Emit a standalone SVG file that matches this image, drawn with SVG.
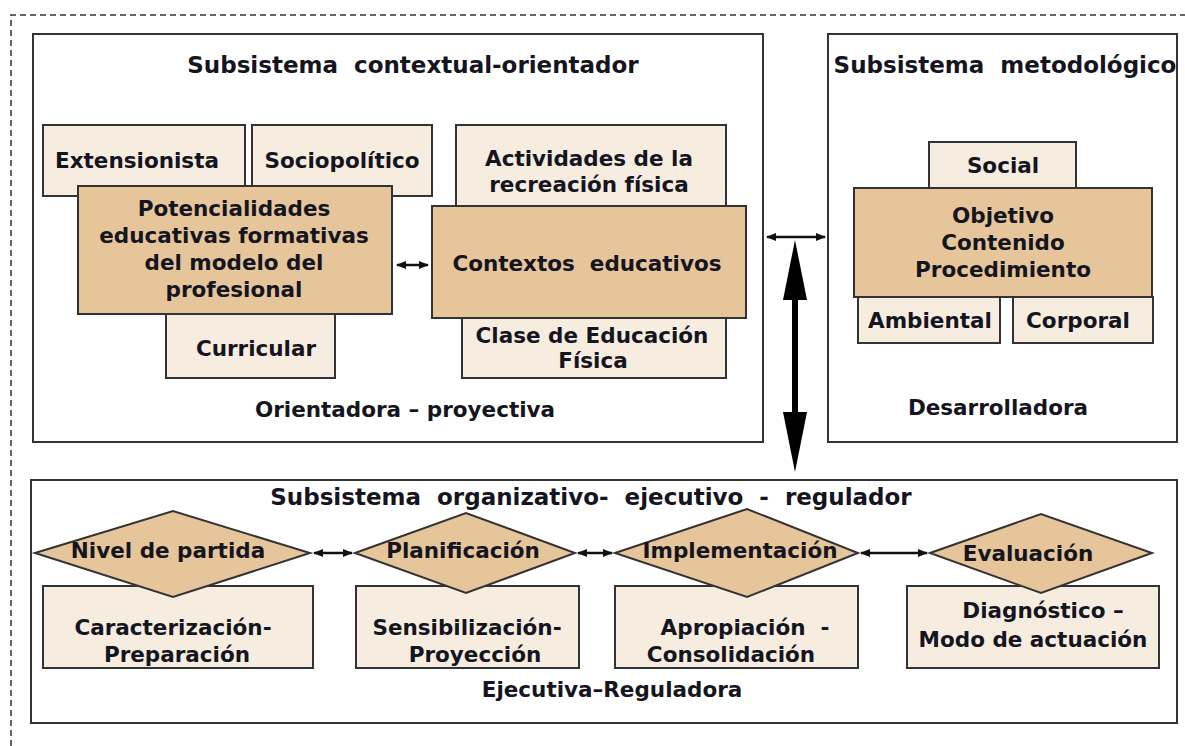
<svg xmlns="http://www.w3.org/2000/svg" width="1185" height="746" viewBox="0 0 1185 746">
<defs>
<style>
.frame{fill:#fff;stroke:#333;stroke-width:2}
.lt{fill:#F6ECE0;stroke:#333;stroke-width:2}
.dk{fill:#E6C59B;stroke:#333;stroke-width:2}
text{font-family:"DejaVu Sans","Liberation Sans",sans-serif;font-weight:bold;fill:#151520;text-anchor:middle;white-space:pre}
.t{font-size:21.5px}
.h{font-size:23px}
.ar{stroke:#111;stroke-width:2.5;fill:none;marker-start:url(#ah);marker-end:url(#ah)}
</style>
<marker id="ah" viewBox="0 0 10 10" refX="9" refY="5" markerWidth="4" markerHeight="4" orient="auto-start-reverse" markerUnits="strokeWidth">
<path d="M0,1 L10,5 L0,9 z" fill="#111"/>
</marker>
</defs>
<rect width="1185" height="746" fill="#fff"/>
<path d="M11,746 L11,15 L1185,15" fill="none" stroke="#333" stroke-width="1.5" stroke-dasharray="6,4"/>

<g id="contextual">
<rect class="frame" x="33" y="34" width="730" height="408"/>
<text class="h" x="413" y="73">Subsistema  contextual-orientador</text>
<text class="t" x="405" y="417">Orientadora – proyectiva</text>
</g>
<g id="extensionista"><rect class="lt" x="43" y="125" width="202" height="71"/><text class="t" x="137" y="168">Extensionista</text></g>
<g id="sociopolitico"><rect class="lt" x="252" y="125" width="180" height="71"/><text class="t" x="342" y="168">Sociopolítico</text></g>
<g id="potencialidades"><rect class="dk" x="78" y="186" width="314" height="128"/>
<text class="t" x="234" y="216">Potencialidades</text>
<text class="t" x="234" y="243">educativas formativas</text>
<text class="t" x="234" y="270">del modelo del</text>
<text class="t" x="234" y="297">profesional</text></g>
<g id="curricular"><rect class="lt" x="166" y="314" width="169" height="64"/><text class="t" x="256" y="356">Curricular</text></g>
<g id="actividades"><rect class="lt" x="456" y="125" width="270" height="81"/>
<text class="t" x="589" y="166">Actividades de la</text>
<text class="t" x="589" y="192">recreación física</text></g>
<g id="contextos"><rect class="dk" x="432" y="206" width="314" height="112"/><text class="t" x="587" y="271">Contextos  educativos</text></g>
<g id="clase"><rect class="lt" x="462" y="318" width="264" height="60"/>
<text class="t" x="592" y="343">Clase de Educación</text>
<text class="t" x="593" y="368">Física</text></g>

<g id="metodologico">
<rect class="frame" x="828" y="34" width="349" height="408"/>
<text class="h" x="1005" y="73">Subsistema  metodológico</text>
<text class="t" x="998" y="415">Desarrolladora</text>
</g>
<g id="social"><rect class="lt" x="929" y="142" width="147" height="46"/><text class="t" x="1003" y="173">Social</text></g>
<g id="objetivo"><rect class="dk" x="854" y="188" width="298" height="109"/>
<text class="t" x="1003" y="223">Objetivo</text>
<text class="t" x="1003" y="250">Contenido</text>
<text class="t" x="1003" y="277">Procedimiento</text></g>
<g id="ambiental"><rect class="lt" x="858" y="297" width="142" height="46"/><text class="t" x="930" y="328">Ambiental</text></g>
<g id="corporal"><rect class="lt" x="1013" y="297" width="140" height="46"/><text class="t" x="1078" y="328">Corporal</text></g>

<g id="organizativo">
<rect class="frame" x="31" y="480" width="1146" height="243"/>
<text class="h" x="591" y="505">Subsistema  organizativo-  ejecutivo  -  regulador</text>
<text class="t" x="612" y="697">Ejecutiva–Reguladora</text>
</g>
<g id="caracterizacion"><rect class="lt" x="43" y="586" width="270" height="82"/>
<text class="t" x="173" y="635">Caracterización-</text>
<text class="t" x="177" y="662">Preparación</text></g>
<g id="nivel"><polygon class="dk" points="35,553 173,511 310,553 173,597" stroke-width="1.5"/><text class="t" x="168" y="558">Nivel de partida</text></g>
<g id="sensibilizacion"><rect class="lt" x="356" y="586" width="223" height="82"/>
<text class="t" x="467" y="635">Sensibilización-</text>
<text class="t" x="475" y="662">Proyección</text></g>
<g id="planificacion"><polygon class="dk" points="355,553 466,513 575,553 466,593" stroke-width="1.5"/><text class="t" x="463" y="558">Planificación</text></g>
<g id="apropiacion"><rect class="lt" x="615" y="586" width="243" height="82"/>
<text class="t" x="745" y="635">Apropiación  -</text>
<text class="t" x="731" y="662">Consolidación</text></g>
<g id="implementacion"><polygon class="dk" points="615,553 747,509 858,553 747,597" stroke-width="1.5"/><text class="t" x="740" y="558">Implementación</text></g>
<g id="diagnostico"><rect class="lt" x="907" y="586" width="252" height="82"/>
<text class="t" x="1043" y="618">Diagnóstico –</text>
<text class="t" x="1033" y="647">Modo de actuación</text></g>
<g id="evaluacion"><polygon class="dk" points="930,553 1041,514 1152,553 1041,593" stroke-width="1.5"/><text class="t" x="1028" y="561">Evaluación</text></g>

<g id="connectors">
<line class="ar" x1="397" y1="265" x2="428" y2="265"/>
<line class="ar" x1="767" y1="237" x2="825" y2="237"/>
<polygon points="795,240 807,300 798,300 798,412 807,412 795,472 783,412 792,412 792,300 783,300" fill="#000"/>
<line class="ar" x1="314" y1="553" x2="352" y2="553"/>
<line class="ar" x1="578" y1="553" x2="612" y2="553"/>
<line class="ar" x1="861" y1="553" x2="927" y2="553"/>
</g>
</svg>
